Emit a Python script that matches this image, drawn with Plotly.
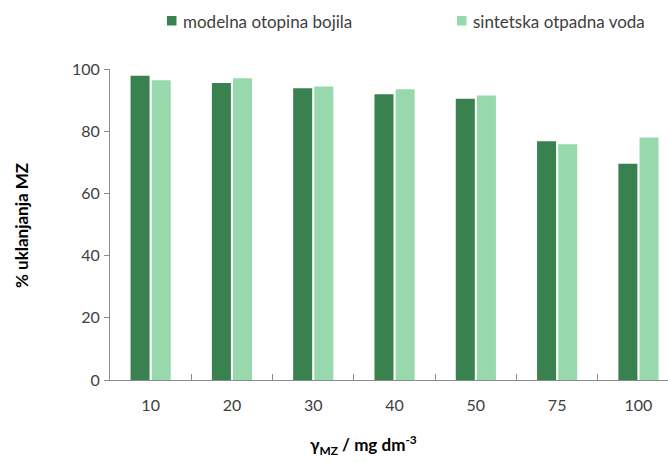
import plotly.graph_objects as go

categories = ["10", "20", "30", "40", "50", "75", "100"]
model_solution = [97.8, 95.5, 93.8, 91.9, 90.4, 76.8, 69.5]
synthetic_wastewater = [96.4, 97.0, 94.4, 93.5, 91.5, 75.8, 78.0]
series_names = ["modelna otopina bojila", "sintetska otpadna voda"]
colors = ["#3A8150", "#97D9AC"]
y_ticks = [0, 20, 40, 60, 80, 100]

W, H = 668, 463
ML, MR, MT, MB = 110, 0, 69, 83
FONT = "Lato"

fig = go.Figure()
for name, vals, col in zip(series_names, [model_solution, synthetic_wastewater], colors):
    fig.add_trace(go.Bar(x=categories, y=vals, name=name, marker=dict(color=col, line=dict(width=0)),
                         showlegend=False))

cat_w = 81.3
x_end = -0.5 + (W - ML - MR) / cat_w

fig.update_layout(
    width=W, height=H,
    margin=dict(l=ML, r=MR, t=MT, b=MB, autoexpand=False),
    paper_bgcolor="white", plot_bgcolor="white",
    barmode="group", bargap=0.48, bargroupgap=0.1,
    font=dict(family=FONT, size=16, color="#404040"),
    xaxis=dict(type="category", range=[-0.5, x_end], showline=True, linecolor="#8C8C8C", linewidth=1,
               ticks="inside", tickson="boundaries", ticklen=6, tickcolor="#8C8C8C",
               showgrid=False, zeroline=False, ticklabelstandoff=11, automargin=False),
    yaxis=dict(range=[0, 100], tickvals=y_ticks, showline=True, linecolor="#8C8C8C", linewidth=1,
               ticks="outside", ticklen=5, tickcolor="#8C8C8C", showgrid=False, zeroline=False,
               ticklabelstandoff=1, automargin=False),
)

# legend (custom, drawn in pixel-based paper coordinates)
def px_x(x):
    return (x - ML) / (W - ML - MR)

def px_y(y):
    return (H - MB - y) / (H - MT - MB)

legend_items = [(167, series_names[0], colors[0]), (457, series_names[1], colors[1])]
for x0, name, col in legend_items:
    fig.add_shape(type="rect", xref="paper", yref="paper",
                  x0=px_x(x0), x1=px_x(x0 + 9.5), y0=px_y(25.5), y1=px_y(16),
                  fillcolor=col, line=dict(width=0))
    fig.add_annotation(text=name, xref="paper", yref="paper", x=px_x(x0 + 14), y=px_y(22),
                       xanchor="left", yanchor="middle", showarrow=False,
                       font=dict(family=FONT, size=17, color="#404040"))

fig.add_annotation(text="<b>% uklanjanja MZ</b>", xref="paper", yref="paper",
                   x=px_x(21), y=px_y(226), xanchor="center", yanchor="middle", textangle=-90,
                   showarrow=False, font=dict(family=FONT, size=17, color="black"))
fig.add_annotation(text="<b>γ<sub>MZ</sub> / mg dm<sup>-3</sup></b>", xref="paper", yref="paper",
                   x=px_x(363), y=px_y(445), xanchor="center", yanchor="middle",
                   showarrow=False, font=dict(family=FONT, size=17, color="black"))

fig.write_html("out.html", config={"displayModeBar": False},
               post_script="document.body.style.margin='0';document.body.style.overflow='hidden';")
